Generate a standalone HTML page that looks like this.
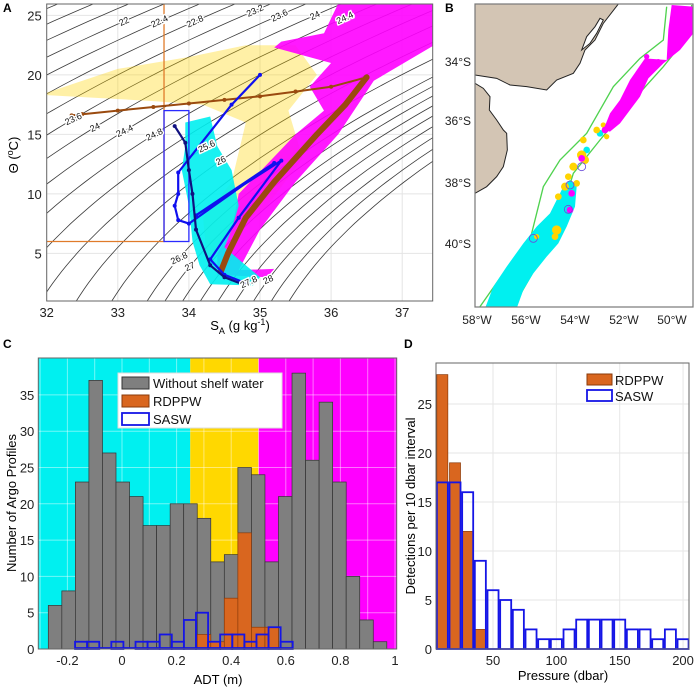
<!DOCTYPE html>
<html><head><meta charset="utf-8"><style>
body{margin:0;background:#fff}
svg{display:block;font-family:"Liberation Sans",sans-serif}
</style></head><body>
<svg id="fig" width="700" height="689" viewBox="0 0 700 689" xmlns="http://www.w3.org/2000/svg">
<defs>
<clipPath id="clipA"><rect x="46.7" y="4" width="386" height="297"/></clipPath>
<clipPath id="clipB"><rect x="475" y="4" width="218" height="303"/></clipPath>
</defs>
<g id="panelA"></g>
<g id="panelB" clip-path="url(#clipB)">
 <g transform="translate(400,0) scale(0.33333)">
  <path d="M225,12 L655,12 L610,70 L585,120 L555,150 L540,190 L520,220 L470,240 L440,270 L380,260 L330,255 L290,235 L225,225 Z" fill="#d3c5b4" stroke="#222" stroke-width="3"/>
  <path d="M545,150 L560,110 L585,80 L600,55 L610,60 L590,100 L570,130 Z" fill="#fff" stroke="#222" stroke-width="3"/>
  <path d="M225,250 L250,265 L270,290 L268,330 L290,360 L310,390 L320,400 L322,450 L310,500 L290,530 L260,560 L225,580 Z" fill="#d3c5b4" stroke="#222" stroke-width="3"/>
  <path d="M800,20 L790,120 L720,175 L640,260 L560,400 L480,480 L430,560 L410,640 L390,720 L340,780 L310,820 L240,920" fill="none" stroke="#4fd24f" stroke-width="4"/>
  <path d="M875,15 L870,100 L790,200 L700,300 L600,420 L520,520 L480,650 L420,780 L340,920" fill="none" stroke="#4fd24f" stroke-width="4"/>
  <path d="M255,925 L280,860 L320,800 L370,730 L410,680 L450,640 L470,600 L490,560 L510,540 L530,560 L525,620 L500,680 L475,730 L440,770 L400,820 L370,870 L350,925 Z" fill="#00f0f0"/>
  <g fill="#00f0f0"><circle cx="400" cy="720" r="14"/><circle cx="380" cy="745" r="12"/><circle cx="420" cy="700" r="12"/><circle cx="560" cy="450" r="10"/><circle cx="600" cy="400" r="10"/></g>
  <g fill="#ffd400"><circle cx="550" cy="420" r="10"/><circle cx="590" cy="390" r="10"/><circle cx="610" cy="375" r="8"/><circle cx="545" cy="465" r="14"/><circle cx="555" cy="480" r="12"/><circle cx="520" cy="500" r="12"/><circle cx="505" cy="530" r="10"/><circle cx="495" cy="560" r="12"/><circle cx="530" cy="550" r="10"/><circle cx="475" cy="590" r="10"/><circle cx="470" cy="690" r="14"/><circle cx="465" cy="710" r="10"/><circle cx="410" cy="710" r="8"/><circle cx="620" cy="410" r="8"/></g>
  <path d="M800,180 L805,90 L815,15 L882,20 L880,100 L840,150 L790,190 L745,235 L720,290 L690,330 L660,370 L630,395 L610,390 L630,340 L660,300 L690,240 L735,175 Z" fill="#ff00ff"/>
  <g fill="#ff00ff"><circle cx="545" cy="475" r="10"/><circle cx="515" cy="580" r="10"/><circle cx="510" cy="630" r="10"/><circle cx="740" cy="170" r="8"/><circle cx="775" cy="185" r="8"/><circle cx="700" cy="250" r="10"/><circle cx="615" cy="390" r="10"/></g>
  <g fill="none" stroke="#6a4bd8" stroke-width="2.5"><circle cx="545" cy="500" r="12"/><circle cx="510" cy="555" r="12"/><circle cx="400" cy="715" r="12"/><circle cx="505" cy="628" r="12"/></g>
 </g>
</g>
<g id="panelC"></g>
<g id="panelD"></g>
</svg>
<script>
// ---------- Panel C data ----------
const adtBinStart = -0.27;
const adtBinWidth = 0.0496;
const grayCounts = [6,8,23,37,27,23,21,17,17,20,20,18,12,13,25,24,12,21,38,26,34,23,10,4,1];
const rdppwCounts = [0,0,0,0,0,0,0,0,0,0,0,2,1,7,16,3,3,0,0,0,0,0,0,0,0];
const saswBinStart = -0.172;
const saswBinWidth = 0.0443;
const saswCounts = [1,1,0,1,0,1,1,2,1,4,5,1,2,2,1,2,3,1];
const adtTicks = [-0.2,0,0.2,0.4,0.6,0.8,1];
const adtTickLabels = ["-0.2","0","0.2","0.4","0.6","0.8","1"];
const countTicks = [0,5,10,15,20,25,30,35];
// ---------- Panel D data ----------
const pressureCenters = [10,20,30,40,50,60,70,80,90,100,110,120,130,140,150,160,170,180,190,200];
const saswDepth = [17,17,16,9,6,5,4,2,1,1,2,3,3,3,3,2,2,1,2,1];
const rdppwDepth = [28,19,12,2,0,0,0,0,0,0,0,0,0,0,0,0,0,0,0,0];
const pressureTicks = [50,100,150,200];
const detectTicks = [0,5,10,15,20,25];
// ---------- Panel A data ----------
const saTicks = [32,33,34,35,36,37];
const thetaTicks = [5,10,15,20,25];
const sigmaLevels = [19.6,20,20.4,20.8,21.2,21.6,22,22.4,22.8,23.2,23.6,24,24.4,24.8,25.2,25.6,26,26.4,26.8,27,27.2,27.4,27.6,27.8,28,28.2,28.4];
const contourLabelSigma = [22,22.4,22.8,23.2,23.6,24,24.4,23.6,24,24.4,24.8,25.6,26,26.8,27,27.8,28];
const contourLabelTheta = [24.5,24.5,24.5,25.4,25,25,24.8,16.3,15.6,15.3,15,14,12.8,4.6,3.9,2.6,2.8];
const magentaS = [34.4,35.1,35.2,34.7,35.0,35.5,36.1,36.6,37.45,37.45,36.1,35.9,35.3,35.2,36.0,35.7,35.9,35.5,35.1,34.7,34.6,34.4];
const magentaT = [3.2,3.0,3.7,3.6,7,11,15,19.5,22.5,26,26,23.5,22.8,22.3,21,19,17,15,12.5,10,7,5];
const cyanS = [33.95,34.3,34.4,34.6,34.7,34.6,34.5,35.0,34.9,34.3,34.15,34.05,34.0,33.9,33.95];
const cyanT = [16,16.5,14,12,9,7,5.5,3,2.3,2.4,4,6,9,12,14];
const yellowS = [32,33,34,34.8,35.5,35.8,35.4,35.6,35.1,34.5,34.25,34.2,34.6,34.8,34.2,33.5,32];
const yellowT = [18.5,20.5,21.5,22.5,22.5,20,17,13,9,6,4.5,8,11,16,17.5,17.8,18.3];
const brownS = [32.35,32.5,33,33.5,34,34.5,35,35.5,36,36.5];
const brownT = [16.6,16.7,17,17.3,17.6,17.9,18.2,18.6,19,19.8];
const brownBandS = [36.5,36.2,35.8,35.2,34.8,34.55,34.45];
const brownBandT = [19.8,17.5,15,11,8,5,3.5];
const blueS = [35.0,34.6,33.85,33.85,33.8,33.85,34.0,35.2,34.1,35.3,34.7,34.3,34.5,34.8];
const blueT = [20,17.5,11.8,10,9,7.8,7.5,12.6,8.2,12.8,8,4.5,3.2,2.5];
const navyS = [33.8,33.95,34.0,34.05,34.1,34.3,34.5,34.8];
const navyT = [15.7,14.3,12,10,7,4,3,2.3];

const NS = "http://www.w3.org/2000/svg";
function mk(parent, tag, attrs, text) {
  const e = document.createElementNS(NS, tag);
  for (const k in attrs) e.setAttribute(k, attrs[k]);
  if (text !== undefined) e.textContent = text;
  parent.appendChild(e);
  return e;
}

// ===== Panel A =====
(function(){
  const g = document.getElementById('panelA');
  const L=46.7,R=432.7,T=4,B=301;
  const xA = s => L + (s-32)*71.1;
  const yA = t => B - (t-1)*11.9;
  mk(g,'rect',{x:L,y:T,width:R-L,height:B-T,fill:'#fff'});
  const clip = mk(g,'g',{'clip-path':'url(#clipA)'});
  saTicks.forEach(s=>{const l=mk(clip,'line',{x1:xA(s),x2:xA(s),y1:T,y2:B,stroke:'#e4e4e4'});
    
    });
  thetaTicks.forEach(t=>{const l=mk(clip,'line',{x1:L,x2:R,y1:yA(t),y2:yA(t),stroke:'#e4e4e4'});
    
    });
  const sFor = (sig,t) => 35 + (sig - 28.15 + 0.0735*t + 0.00469*t*t)/0.802;
  sigmaLevels.forEach(sig=>{
    let d='';
    for(let t=0;t<=27;t+=0.5){d+=(d?'L':'M')+xA(sFor(sig,t)).toFixed(1)+','+yA(t).toFixed(1);}
    const p=mk(clip,'path',{d:d,fill:'none',stroke:'#3a3a3a','stroke-width':0.8});
    
    
  });
  function poly(S,Tt,fill,op,name){
    const pts=S.map((s,i)=>xA(s).toFixed(1)+','+yA(Tt[i]).toFixed(1)).join(' ');
    const p=mk(clip,'polygon',{points:pts,fill:fill,opacity:op});
    
    
  }
  poly(yellowS,yellowT,'#ffd400',0.35,'yellow-scatter-cloud');
  poly(magentaS,magentaT,'#ff00ff',0.9,'magenta-scatter-cloud');
  poly(cyanS,cyanT,'#00f0f0',0.9,'cyan-scatter-cloud');
  const o1=mk(clip,'polyline',{points:`${xA(33.65)},${T} ${xA(33.65)},${yA(6)} ${L},${yA(6)}`,fill:'none',stroke:'#e07b2a','stroke-width':1.3});
  
  
  const b1=mk(clip,'rect',{x:xA(33.65),y:yA(17),width:xA(34)-xA(33.65),height:yA(6)-yA(17),fill:'none',stroke:'#2a2aff','stroke-width':1.3});
  
  
  function line(S,Tt,col,w,name,mr){
    const pts=S.map((s,i)=>xA(s).toFixed(1)+','+yA(Tt[i]).toFixed(1)).join(' ');
    const p=mk(clip,'polyline',{points:pts,fill:'none',stroke:col,'stroke-width':w,'stroke-linejoin':'round','stroke-linecap':'round'});
    
    
    S.forEach((s,i)=>{const c=mk(clip,'circle',{cx:xA(s),cy:yA(Tt[i]),r:mr,fill:col});
      
      });
  }
  line(brownBandS,brownBandT,'#9a4a0f',6,'brown-profile-band',2);
  line(brownS,brownT,'#9a4a0f',2,'brown-profile',2);
  line(blueS,blueT,'#1010ee',2.2,'blue-profile',2);
  line(navyS,navyT,'#101080',2.2,'navy-profile',2);
  contourLabelSigma.forEach((sig,i)=>{
    const t=contourLabelTheta[i], x=xA(sFor(sig,t)), y=yA(t);
    const tx=mk(clip,'text',{x:x,y:y+3,'font-size':9,'text-anchor':'middle',transform:`rotate(-25 ${x} ${y})`,fill:'#111',stroke:'#fff','stroke-width':3,'paint-order':'stroke'},String(sig));
    
    
  });
  mk(g,'rect',{x:L,y:T,width:R-L,height:B-T,fill:'none',stroke:'#666','stroke-width':1});
  saTicks.forEach(s=>{const t=mk(g,'text',{x:xA(s),y:B+16,'font-size':13,'text-anchor':'middle',fill:'#222'},String(s));
    
    });
  thetaTicks.forEach(v=>{const t=mk(g,'text',{x:L-5,y:yA(v)+5,'font-size':13,'text-anchor':'end',fill:'#222'},String(v));
    
    });
})();

// ===== Panel C =====
(function(){
  const g=document.getElementById('panelC');
  const L=38.3,R=396.7,T=358,B=649;
  const xC=v=>122+v*273, yC=n=>B-n*7.26;
  mk(g,'rect',{x:L,y:T,width:xC(0.25)-L,height:B-T,fill:'#00f0f0'});
  mk(g,'rect',{x:xC(0.25),y:T,width:xC(0.5)-xC(0.25),height:B-T,fill:'#ffd800'});
  mk(g,'rect',{x:xC(0.5),y:T,width:R-xC(0.5),height:B-T,fill:'#ff00ff'});
  [-0.3,-0.1,0.1,0.3,0.5,0.7,0.9].concat(adtTicks).forEach(v=>{const l=mk(g,'line',{x1:xC(v),x2:xC(v),y1:T,y2:B,stroke:'#fff','stroke-opacity':0.45});
    
    });
  countTicks.forEach(n=>{const l=mk(g,'line',{x1:L,x2:R,y1:yC(n),y2:yC(n),stroke:'#fff','stroke-opacity':0.45});
    
    });
  grayCounts.forEach((c,i)=>{const x0=xC(adtBinStart+i*adtBinWidth);
    const r=mk(g,'rect',{x:x0,y:yC(c),width:adtBinWidth*273,height:c*7.26,fill:'#7f7f7f',stroke:'#333','stroke-width':0.7});
    
    });
  rdppwCounts.forEach((c,i)=>{if(!c)return;const x0=xC(adtBinStart+i*adtBinWidth);
    const r=mk(g,'rect',{x:x0,y:yC(c),width:adtBinWidth*273,height:c*7.26,fill:'#d9661f',stroke:'#8a3a0a','stroke-width':0.7});
    
    });
  saswCounts.forEach((c,i)=>{if(!c)return;const x0=xC(saswBinStart+i*saswBinWidth);
    const r=mk(g,'rect',{x:x0,y:yC(c),width:saswBinWidth*273,height:c*7.26,fill:'none',stroke:'#1515e6','stroke-width':1.8});
    
    });
  mk(g,'line',{x1:xC(saswBinStart),x2:xC(saswBinStart+saswCounts.length*saswBinWidth),y1:B-1,y2:B-1,stroke:'#1515e6','stroke-width':1.8});
  mk(g,'rect',{x:L,y:T,width:R-L,height:B-T,fill:'none',stroke:'#666'});
  adtTicks.forEach((v,i)=>{const t=mk(g,'text',{x:xC(v),y:B+16,'font-size':13,'text-anchor':'middle',fill:'#222'},adtTickLabels[i]);
    
    });
  countTicks.forEach(n=>{const t=mk(g,'text',{x:L-4,y:yC(n)+5,'font-size':13,'text-anchor':'end',fill:'#222'},String(n));
    
    });
  const lg=mk(g,'g',{});
  
  
  mk(lg,'rect',{x:118,y:373,width:164,height:55,fill:'#fff',stroke:'#ddd'});
  mk(lg,'rect',{x:122,y:377,width:27,height:12,fill:'#7f7f7f',stroke:'#333'});
  mk(lg,'text',{x:153,y:388,'font-size':13,fill:'#111'},'Without shelf water');
  mk(lg,'rect',{x:122,y:395,width:27,height:12,fill:'#d9661f',stroke:'#8a3a0a'});
  mk(lg,'text',{x:153,y:406,'font-size':13,fill:'#111'},'RDPPW');
  mk(lg,'rect',{x:122,y:413,width:27,height:12,fill:'#fff',stroke:'#1515e6','stroke-width':1.8});
  mk(lg,'text',{x:153,y:424,'font-size':13,fill:'#111'},'SASW');
})();

// ===== Panel D =====
(function(){
  const g=document.getElementById('panelD');
  const L=436,R=689,T=363,B=649;
  const xD=p=>L+(p-5)*1.267, yD=n=>B-n*9.8;
  mk(g,'rect',{x:L,y:T,width:R-L,height:B-T,fill:'#fff'});
  pressureTicks.forEach(p=>{const l=mk(g,'line',{x1:xD(p),x2:xD(p),y1:T,y2:B,stroke:'#e6e6e6'});
    
    });
  detectTicks.forEach(n=>{const l=mk(g,'line',{x1:L,x2:R,y1:yD(n),y2:yD(n),stroke:'#e6e6e6'});
    
    });
  const bw=8.7;
  rdppwDepth.forEach((c,i)=>{if(!c)return;
    const r=mk(g,'rect',{x:xD(pressureCenters[i]-bw/2),y:yD(c),width:bw*1.267,height:c*9.8,fill:'#d9661f',stroke:'#8a3a0a','stroke-width':0.7});
    
    });
  saswDepth.forEach((c,i)=>{
    const r=mk(g,'rect',{x:xD(pressureCenters[i]-bw/2),y:yD(c),width:bw*1.267,height:c*9.8,fill:'none',stroke:'#1515e6','stroke-width':1.8});
    
    });
  mk(g,'rect',{x:L,y:T,width:R-L,height:B-T,fill:'none',stroke:'#666'});
  pressureTicks.forEach(p=>{const t=mk(g,'text',{x:xD(p),y:B+16,'font-size':13,'text-anchor':'middle',fill:'#222'},String(p));
    
    });
  detectTicks.forEach(n=>{const t=mk(g,'text',{x:L-4,y:yD(n)+5,'font-size':13,'text-anchor':'end',fill:'#222'},String(n));
    
    });
  const lg=mk(g,'g',{});
  
  
  mk(lg,'rect',{x:587,y:374,width:25,height:11,fill:'#d9661f',stroke:'#8a3a0a'});
  mk(lg,'text',{x:615,y:385,'font-size':13,fill:'#111'},'RDPPW');
  mk(lg,'rect',{x:587,y:390,width:25,height:11,fill:'#fff',stroke:'#1515e6','stroke-width':1.8});
  mk(lg,'text',{x:615,y:401,'font-size':13,fill:'#111'},'SASW');
})();
</script>
<svg width="700" height="689" style="position:absolute;left:0;top:0;font-family:'Liberation Sans',sans-serif">
 <text x="3" y="12" font-size="12" font-weight="bold">A</text>
 <text x="445" y="12" font-size="12" font-weight="bold">B</text>
 <text x="3" y="348" font-size="12" font-weight="bold">C</text>
 <text x="404" y="348" font-size="12" font-weight="bold">D</text>
 <text transform="translate(18,155) rotate(-90)" font-size="13" text-anchor="middle">Θ (<tspan font-size="9" dy="-5">o</tspan><tspan dy="5">C)</tspan></text>
 <text x="240" y="330" font-size="13" text-anchor="middle">S<tspan font-size="9" dy="4">A</tspan><tspan dy="-4"> (g kg</tspan><tspan font-size="9" dy="-5">-1</tspan><tspan dy="5">)</tspan></text>
 <text transform="translate(16,503) rotate(-90)" font-size="13" text-anchor="middle">Number of Argo Profiles</text>
 <text x="218" y="684" font-size="13" text-anchor="middle">ADT (m)</text>
 <text transform="translate(415,506) rotate(-90)" font-size="13" text-anchor="middle">Detections  per 10 dbar interval</text>
 <text x="563" y="680" font-size="13" text-anchor="middle">Pressure (dbar)</text>
 <rect x="475" y="4" width="218" height="303" fill="none" stroke="#777" stroke-width="1.2"/>
 <g font-size="12" fill="#222" text-anchor="end">
  <text x="471" y="66">34°S</text><text x="471" y="125">36°S</text><text x="471" y="187">38°S</text><text x="471" y="248">40°S</text>
 </g>
 <g font-size="12" fill="#222" text-anchor="middle">
  <text x="477" y="324">58°W</text><text x="526" y="324">56°W</text><text x="575" y="324">54°W</text><text x="624" y="324">52°W</text><text x="672" y="324">50°W</text>
 </g>
</svg>
</body></html>
